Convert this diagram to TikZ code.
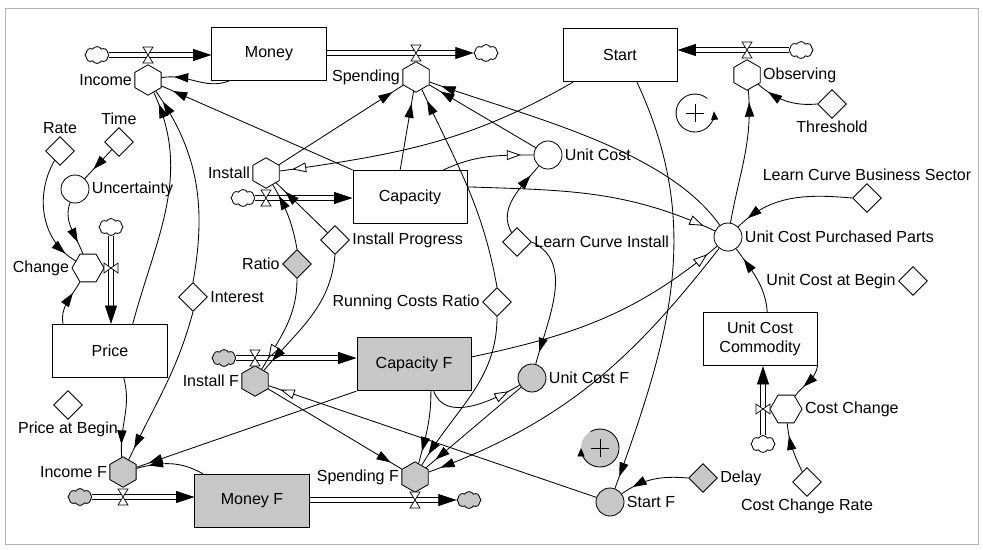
\documentclass[tikz,border=0pt]{standalone}
\usepackage{fontspec}
\setmainfont{Liberation Sans}
\usetikzlibrary{arrows.meta, shapes.geometric, shapes.symbols, decorations.markings}
\definecolor{fgray}{gray}{0.78}

\begin{document}
\begin{tikzpicture}[x=0.025cm, y=0.025cm, line width=0.6pt,
    every node/.style={font=\fontsize{11.4}{13.5}\selectfont},
    stock/.style={draw, rectangle, minimum width=2.85cm, minimum height=1.33cm, inner sep=0, fill=white, align=center, line width=0.7pt},
    rate/.style={draw, regular polygon, regular polygon sides=6, shape border rotate=30, minimum size=0.76cm, inner sep=0, fill=white},
    vrate/.style={rate, shape border rotate=0, minimum size=0.8cm},
    aux/.style={draw, circle, minimum size=0.7cm, inner sep=0, fill=white},
    const/.style={draw, diamond, minimum width=0.72cm, minimum height=0.72cm, inner sep=0, fill=white},
    cloudy/.style={draw, cloud, cloud puffs=8, cloud puff arc=120, aspect=1.4, minimum width=0.6cm, minimum height=0.42cm, inner sep=0, fill=white},
    fnode/.style={fill=fgray},
    lbl/.style={inner sep=1.5pt},
    flowpipe/.style={draw, line width=4.6pt, shorten >=6pt,
        postaction={draw=white, line width=3.2pt},
        postaction={decorate, decoration={markings, mark=at position 1 with {\arrow[line width=0.5pt]{Triangle[length=13pt,width=8.5pt]}}}}},
    link/.style={postaction={decorate, decoration={markings, mark=at position #1 with {\arrow{Triangle[length=10pt,width=6.5pt]}}}}},
    link/.default=-9pt,
    initlink/.style={postaction={decorate, decoration={markings, mark=at position #1 with {\arrow{Triangle[length=10pt,width=7pt,fill=white]}}}}},
    initlink/.default=-9pt,
    hvalve/.pic={\draw[fill=white, line width=0.5pt] (-5,8) -- (5,8) -- (-5,-8) -- (5,-8) -- cycle;},
    vvalve/.pic={\draw[fill=white, line width=0.5pt] (-7,5) -- (-7,-5) -- (7,5) -- (7,-5) -- cycle;}
]
    \useasboundingbox (0,0) rectangle (983,-549);
    \draw[gray!60, line width=0.5pt] (5,-8) rectangle (978,-544);

    % Stocks
    \node[stock] (money) at (269,-54) {Money};
    \node[stock] (start) at (620,-55) {Start};
    \node[stock] (capacity) at (410,-197) {Capacity};
    \node[stock] (price) at (110,-351) {Price};
    \node[stock, fnode] (capf) at (414,-364) {Capacity F};
    \node[stock, fnode] (moneyf) at (252,-501) {Money F};
    \node[stock] (uccom) at (760,-339) {Unit Cost\\Commodity};

    % Rates
    \node[rate, label={[lbl]left:Income}] (income) at (148,-80) {};
    \node[rate, label={[lbl]left:Spending}] (spending) at (416,-77) {};
    \node[rate, label={[lbl]right:Observing}] (observing) at (747,-75) {};
    \node[rate, label={[lbl]left:Install}] (install) at (266,-173) {};
    \node[rate, fnode, label={[lbl]left:Install F}] (installf) at (255,-381) {};
    \node[rate, fnode, label={[lbl]left:Income F}] (incomef) at (123,-472) {};
    \node[rate, fnode, label={[lbl]left:Spending F}] (spendingf) at (415,-477) {};
    \node[vrate, label={[lbl]left:Change}] (change) at (88,-268) {};
    \node[vrate, label={[lbl]right:Cost Change}] (costchange) at (786,-409) {};

    % Sources and sinks
    \node[cloudy] (cincome) at (97,-55) {};
    \node[cloudy] (cspend) at (486,-53) {};
    \node[cloudy] (cobs) at (801,-50) {};
    \node[cloudy] (cinstall) at (243,-198) {};
    \node[cloudy, fnode] (cinstallf) at (224,-358) {};
    \node[cloudy, fnode] (cincomef) at (80,-497) {};
    \node[cloudy, fnode] (cspendf) at (469,-500) {};
    \node[cloudy] (cchange) at (111,-227) {};
    \node[cloudy] (ccost) at (763,-444) {};

    % Constants
    \node[const, label={[lbl]above:Rate}] (rateval) at (60,-151) {};
    \node[const, label={[lbl]above:Time}] (timeval) at (119,-142) {};
    \node[const, label={[lbl]below:Threshold}] (threshold) at (832,-104) {};
    \node[const, label={[lbl]above:Learn Curve Business Sector}] (lcbs) at (867,-198) {};
    \node[const, label={[lbl]left:Unit Cost at Begin}] (ucbegin) at (913,-281) {};
    \node[const, label={[lbl]below:Cost Change Rate}] (ccrate) at (807,-482) {};
    \node[const, fnode, label={[lbl]right:Delay}] (delay) at (703,-478) {};
    \node[const, label={[lbl]below:Price at Begin}] (pricebegin) at (68,-405) {};
    \node[const, label={[lbl]right:Interest}] (interest) at (193,-297) {};
    \node[const, fnode, label={[lbl]left:Ratio}] (ratio) at (297,-264) {};
    \node[const, label={[lbl]right:Install Progress}] (instprog) at (335,-240) {};
    \node[const, label={[lbl]right:Learn Curve Install}] (lcinst) at (517,-242) {};
    \node[const, label={[lbl]left:Running Costs Ratio}] (rcr) at (497,-302) {};

    % Auxiliaries
    \node[aux, label={[lbl]right:Uncertainty}] (uncert) at (75,-189) {};
    \node[aux, label={[lbl]right:Unit Cost}] (unitcost) at (548,-155) {};
    \node[aux, label={[lbl]right:Unit Cost Purchased Parts}] (ucpp) at (728,-237) {};
    \node[aux, fnode, label={[lbl]right:Unit Cost F}] (unitcostf) at (532,-378) {};
    \node[aux, fnode, label={[lbl]right:Start F}] (startf) at (610,-502) {};

    % Flows
    \draw[flowpipe] (cincome.east) -- (cincome -| money.west);
    \draw[flowpipe] (money.east |- cspend) -- (cspend.west);
    \draw[flowpipe] (cobs.west) -- (cobs -| start.east);
    \draw[flowpipe] (cinstall.east) -- (cinstall -| capacity.west);
    \draw[flowpipe] (cinstallf.east) -- (cinstallf -| capf.west);
    \draw[flowpipe] (cincomef.east) -- (cincomef -| moneyf.west);
    \draw[flowpipe] (moneyf.east |- cspendf) -- (cspendf.west);
    \draw[flowpipe] (cchange.south) -- (cchange |- price.north);
    \draw[flowpipe] (ccost.north) -- (ccost |- uccom.south);

    % Valves
    \pic at (148,-55) {hvalve};
    \pic at (416,-53) {hvalve};
    \pic at (747,-50) {hvalve};
    \pic at (266,-198) {hvalve};
    \pic at (255,-358) {hvalve};
    \pic at (123,-497) {hvalve};
    \pic at (415,-500) {hvalve};
    \pic at (111,-268) {vvalve};
    \pic at (763,-409) {vvalve};

    % Loops
    \coordinate (loopa) at (695,-113);
    \draw (loopa) +(-9,0) -- +(9,0) (loopa) +(0,-9) -- +(0,9);
    \draw[-{Triangle[length=6pt,width=5pt]}] (loopa) ++(50:19) arc[start angle=50, end angle=365, radius=19];
    \coordinate (loopb) at (600,-448);
    \fill[fgray] (loopb) circle[radius=19];
    \draw (loopb) +(-9,0) -- +(9,0) (loopb) +(0,-9) -- +(0,9);
    \draw[-{Triangle[length=6pt,width=5pt]}] (loopb) ++(120:19) arc[start angle=120, end angle=-180, radius=19];

    % Links into Income and Spending
    \draw[link] (money.214) to[out=200,in=10] (income);
    \draw[link] (price.50) to[out=75,in=-65] (income);
    \draw[link] (interest.north) to[out=80,in=-55] (income);
    \draw[link] (capacity.north west) -- (income);
    \draw[link] (install) -- (spending);
    \draw[link] (capacity.110) -- (spending);
    \draw[link] (rcr.north) to[out=100,in=-65] (spending);
    \draw[link] (unitcost) -- (spending);
    \draw[link] (ucpp) to[out=125,in=-20, looseness=0.75] (spending);

    % Price loop
    \draw[link] (timeval) -- (uncert);
    \draw[link] (uncert) to[out=-110,in=110] (change);
    \draw[link] (rateval) to[out=-120,in=150] (change);
    \draw[link] (price.150) to[out=100,in=-120] (change);

    % Start and unit cost
    \draw[link] (threshold.west) to[out=185,in=-40] (observing);
    \draw[link] (ucpp) to[out=80,in=-85] (observing);
    \draw[link] (lcbs.west) to[out=175,in=45] (ucpp);
    \draw[link] (uccom.75) to[out=95,in=-55] (ucpp);
    \draw[initlink] (capacity.10) to[out=-2,in=155] (ucpp);
    \draw[initlink] (capf.7) to[out=12,in=-140] (ucpp);
    \draw[link] (uccom.south east) to[out=-100,in=55] (costchange);
    \draw[link] (ccrate) to[out=115,in=-85] (costchange);
    \draw[link] (delay.west) to[out=175,in=35] (startf);
    \draw[link] (start.-58) to[out=-65,in=70] (startf);
    \draw[initlink] (startf) -- (installf);

    % Install
    \draw[initlink] (start.210) to[out=-150,in=8] (install);
    \draw[link] (ratio.north) to[out=100,in=-60] (install);
    \draw[link] (instprog) -- (install);
    \draw[initlink] (ratio.south) to[out=-90,in=60] (installf);
    \draw[link] (instprog.south) to[out=-95,in=50] (installf);
    \draw[initlink] (capacity.39) to[out=25,in=180] (unitcost);
    \draw[link] (lcinst) to[out=120,in=-130] (unitcost);
    \draw[link] (lcinst.east) to[out=-25,in=75] (unitcostf);
    \draw[initlink] (capf.-54) to[out=-70,in=-150] (unitcostf);

    % Links into Spending F and Income F
    \draw[link] (installf) -- (spendingf);
    \draw[link] (capf.-58) to[out=-90,in=75] (spendingf);
    \draw[link] (rcr.south) to[out=-90,in=60] (spendingf);
    \draw[link] (unitcostf) -- (spendingf);
    \draw[link] (ucpp) to[out=-128,in=20] (spendingf);
    \draw[link] (capf.south west) -- (incomef);
    \draw[link] (price.-63) to[out=-75,in=95] (incomef);
    \draw[link] (interest.south) to[out=-105,in=65] (incomef);
    \draw[link] (moneyf.151) to[out=150,in=15] (incomef);
\end{tikzpicture}
\end{document}
